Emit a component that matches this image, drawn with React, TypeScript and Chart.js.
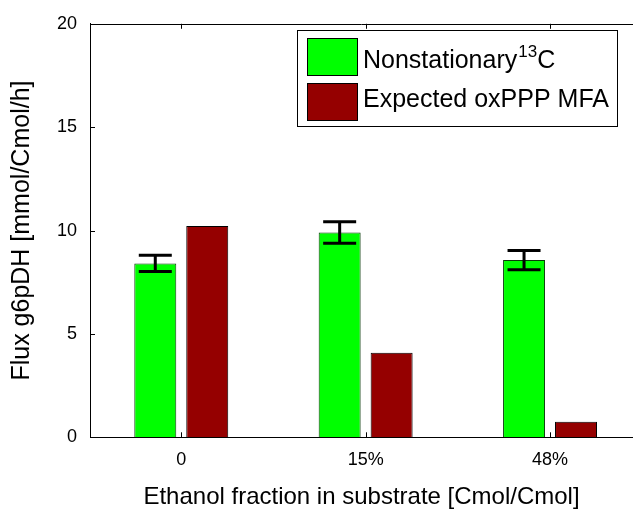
import React, { useEffect, useRef } from "react";
import { Chart, registerables } from "chart.js";

Chart.register(...registerables);

const categories = ["0", "15%", "48%"];
const categoryPositions = [0, 1, 2];
const nonstationary = [8.41, 9.9, 8.57];
const nonstationaryErr = [0.39, 0.52, 0.46];
const expected = [10.22, 4.09, 0.75];
const yTicks = [0, 5, 10, 15, 20];
const seriesNames = ["Nonstationary", "Expected oxPPP MFA"];
const greenColor = "#00ff00";
const redColor = "#950000";
const FONT = "'Liberation Sans', Arial, Helvetica, sans-serif";

const decorPlugin = {
  id: "decor",
  afterDatasetsDraw(chart: any) {
    const { ctx, chartArea: a, scales } = chart;
    const x = scales.x;
    const y = scales.y;
    ctx.save();
    // error bars
    const meta = chart.getDatasetMeta(0);
    ctx.strokeStyle = "#000";
    ctx.lineWidth = 3;
    ctx.lineCap = "butt";
    meta.data.forEach((bar: any, i: number) => {
      const cx = bar.x;
      const yt = y.getPixelForValue(nonstationary[i] + nonstationaryErr[i]);
      const yb = y.getPixelForValue(nonstationary[i] - nonstationaryErr[i]);
      ctx.beginPath();
      ctx.moveTo(cx, yt);
      ctx.lineTo(cx, yb);
      ctx.moveTo(cx - 16.5, yt);
      ctx.lineTo(cx + 16.5, yt);
      ctx.moveTo(cx - 16.5, yb);
      ctx.lineTo(cx + 16.5, yb);
      ctx.stroke();
    });
    // top border + inward ticks
    ctx.lineWidth = 1;
    ctx.beginPath();
    ctx.moveTo(a.left, Math.round(a.top) + 0.5);
    ctx.lineTo(a.right, Math.round(a.top) + 0.5);
    categoryPositions.forEach((v) => {
      const px = Math.round(x.getPixelForValue(v)) + 0.5;
      ctx.moveTo(px, a.bottom);
      ctx.lineTo(px, a.bottom - 5);
      ctx.moveTo(px, a.top);
      ctx.lineTo(px, a.top + 5);
    });
    yTicks.forEach((v) => {
      const py = Math.round(y.getPixelForValue(v)) + 0.5;
      ctx.moveTo(a.left, py);
      ctx.lineTo(a.left + 5, py);
    });
    ctx.stroke();
    ctx.restore();
  },
  afterDraw(chart: any) {
    const { ctx } = chart;
    ctx.save();
    // legend box
    ctx.fillStyle = "#fff";
    ctx.fillRect(297.5, 30.5, 320, 96);
    ctx.strokeStyle = "#000";
    ctx.lineWidth = 1;
    ctx.strokeRect(297.5, 30.5, 320, 96);
    const colors = [chart.data.datasets[0].backgroundColor, chart.data.datasets[1].backgroundColor];
    const swY = [38.5, 83.5];
    const baseY = [68, 107];
    colors.forEach((c: string, i: number) => {
      ctx.fillStyle = c;
      ctx.fillRect(307.5, swY[i], 50, 37);
      ctx.strokeRect(307.5, swY[i], 50, 37);
    });
    ctx.fillStyle = "#000";
    ctx.textBaseline = "alphabetic";
    ctx.textAlign = "left";
    ctx.font = `25px ${FONT}`;
    ctx.fillText(seriesNames[0], 363, baseY[0]);
    const w = ctx.measureText(seriesNames[0]).width;
    ctx.font = `17px ${FONT}`;
    ctx.fillText("13", 363 + w + 1, 57);
    const w2 = ctx.measureText("13").width;
    ctx.font = `25px ${FONT}`;
    ctx.fillText("C", 363 + w + 1 + w2, baseY[0]);
    ctx.fillText(seriesNames[1], 363, baseY[1]);
    ctx.restore();
  },
};

export default function App() {
  const ref = useRef<HTMLCanvasElement | null>(null);
  useEffect(() => {
    if (!ref.current) return;
    const chart = new Chart(ref.current, {
      type: "bar",
      data: {
        datasets: [
          {
            label: seriesNames[0],
            data: categoryPositions.map((p, i) => ({ x: p, y: nonstationary[i] })),
            backgroundColor: greenColor,
            borderColor: "#0a3a0a",
            borderWidth: 1,
            categoryPercentage: 0.5637,
            barPercentage: 0.8077,
          },
          {
            label: seriesNames[1],
            data: categoryPositions.map((p, i) => ({ x: p, y: expected[i] })),
            backgroundColor: redColor,
            borderColor: "#000",
            borderWidth: 1,
            categoryPercentage: 0.5637,
            barPercentage: 0.8077,
          },
        ],
      },
      options: {
        responsive: false,
        animation: false,
        layout: { padding: { top: 21.5, left: 0, right: 0, bottom: 0 } },
        plugins: { legend: { display: false }, tooltip: { enabled: false } },
        scales: {
          x: {
            type: "linear",
            offset: false,
            min: -0.495,
            max: 2.45,
            afterBuildTicks: (s: any) => {
              s.ticks = categoryPositions.map((v) => ({ value: v }));
            },
            afterFit: (s: any) => {
              s.height = 71.7;
            },
            grid: { display: false, drawTicks: false, offset: false },
            border: { display: true, color: "#000", width: 1 },
            ticks: {
              color: "#000",
              font: { family: FONT, size: 18 },
              padding: 12,
              maxRotation: 0,
              autoSkip: false,
              callback: (v: any) => categories[Number(v)] ?? "",
            },
            title: {
              display: true,
              text: "Ethanol fraction in substrate [Cmol/Cmol]",
              color: "#000",
              font: { family: FONT, size: 24, lineHeight: 1 },
              padding: { top: 0, bottom: 0 },
            },
          },
          y: {
            min: 0,
            max: 20,
            afterBuildTicks: (s: any) => {
              s.ticks = yTicks.map((v) => ({ value: v }));
            },
            afterFit: (s: any) => {
              s.width = 90;
            },
            grid: { display: false, drawTicks: false },
            border: { display: true, color: "#000", width: 1 },
            ticks: {
              color: "#000",
              font: { family: FONT, size: 18 },
              padding: 13,
            },
            title: {
              display: true,
              text: "Flux g6pDH [mmol/Cmol/h]",
              color: "#000",
              font: { family: FONT, size: 25, lineHeight: 1 },
              padding: { top: 10, bottom: 0 },
            },
          },
        },
      },
      plugins: [decorPlugin],
    });
    return () => chart.destroy();
  }, []);
  return (
    <div style={{ position: "absolute", left: 0, top: 0, width: 633, height: 509, background: "#fff" }}>
      <canvas ref={ref} width={633} height={509} />
    </div>
  );
}
